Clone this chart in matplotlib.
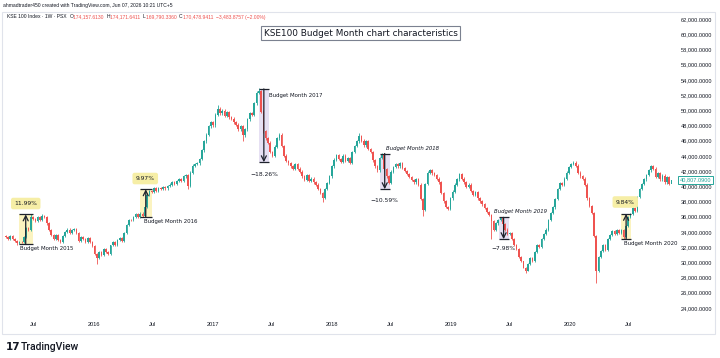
import datetime as dt
import matplotlib
matplotlib.use("Agg")
import matplotlib.pyplot as plt
import matplotlib.patches as mpatches
import numpy as np

# ---------------- data ----------------
start_date = dt.date(2015, 4, 6)          # first weekly candle
first_open = 33400
closes = [
    33300, 33000, 33500, 33100, 32800, 32500, 32700, 32600, 33300, 34500,
    34300, 35900, 35700, 35400, 35900, 35600, 36100, 35900, 35100, 34200,
    33600, 33100, 33600, 32900, 32700, 33500, 34000, 34300, 33900, 34200,
    34400, 33900, 32800, 33300, 33000, 32700, 33200, 32600, 32100, 31100,
    30600, 31300, 30900, 31700, 31300, 31100, 32200, 32600, 32300, 32900,
    33200, 32800, 33800, 34900, 35600, 35500, 35900, 36300, 36000, 36400,
    36100, 37300, 38900, 39400, 39200, 39700, 39400, 39800, 39600, 39900,
    39700, 40000, 40200, 40500, 40300, 40700, 40900, 40700, 41300, 41500,
    40000, 41800, 42700, 42900, 43000, 43600, 44700, 45900, 46800, 47900,
    48400, 48000, 49400, 50200, 49600, 49900, 49300, 49700, 49100, 48900,
    48400, 48100, 47500, 47900, 46700, 47500, 48800, 49600, 49400, 50900,
    52300, 52500, 49800, 47200, 46300, 45700, 44500, 44000, 45200, 46300,
    46800, 45300, 44000, 43300, 43000, 42600, 42300, 42900, 42300, 41900,
    41300, 40800, 41500, 40700, 41000, 40500, 40200, 39600, 39100, 38500,
    39600, 40400, 41300, 42600, 43500, 44100, 43600, 43200, 44000, 43300,
    43700, 43100, 44500, 45300, 45900, 46600, 46000, 45400, 45900, 44900,
    44500, 43400, 42600, 42100, 43700, 44200, 42200, 41300, 40400, 41900,
    42500, 42900, 42600, 43000, 42400, 42000, 41600, 41200, 40800, 40500,
    40900, 40200, 38300, 36900, 40300, 41800, 42100, 41700, 41500, 41000,
    40500, 39100, 38000, 37300, 37000, 38400, 39300, 40200, 40900, 41600,
    41000, 40500, 39900, 40200, 39400, 38900, 39200, 38400, 38000, 37600,
    37100, 36600, 36200, 35400, 34300, 35100, 35600, 35800, 35000, 34300,
    33700, 33800, 33000, 32300, 31700, 30700, 30100, 29300, 28900, 29800,
    30600, 30100, 31400, 32300, 32000, 33000, 33700, 34300, 35600, 36500,
    37200, 38300, 39600, 40400, 40200, 41000, 41800, 42500, 42900, 43100,
    42700, 41800, 41300, 41000, 40200, 38400, 37400, 36500, 33400, 28800,
    30700, 31500, 32300, 31600, 33000, 33600, 34100, 33700, 34200, 33900,
    34200, 33300, 34800, 35900, 36300, 37100, 36800, 38600, 39600, 40300,
    40900, 41500, 42100, 42600, 42300, 41200, 41700, 40900, 41400, 40500,
    41200, 40300, 40807,
]
# notable wick extremes (week index -> price)
low_spikes = {5: 32300, 40: 29800, 80: 39600, 104: 46000, 139: 37900,
              183: 36100, 213: 33100, 228: 28600, 259: 27200, 271: 33100}
high_spikes = {11: 36300, 16: 36400, 93: 50700, 111: 52900, 120: 47000,
               155: 47000, 165: 44400, 199: 41800, 250: 43300, 283: 42800}
last_price = 40807.09

tick_dates = [dt.date(2015, 7, 1), dt.date(2016, 1, 1), dt.date(2016, 7, 1),
              dt.date(2017, 1, 1), dt.date(2017, 7, 1), dt.date(2018, 1, 1),
              dt.date(2018, 7, 1), dt.date(2019, 1, 1), dt.date(2019, 7, 1),
              dt.date(2020, 1, 1), dt.date(2020, 7, 1)]
tick_labels = ["Jul", "2016", "Jul", "2017", "Jul", "2018", "Jul", "2019",
               "Jul", "2020", "Jul"]
price_ticks = list(range(24000, 62001, 2000))

budget_labels = ["Budget Month 2015", "Budget Month 2016", "Budget Month 2017",
                 "Budget Month 2018", "Budget Month 2019", "Budget Month 2020"]
budget_start = [dt.date(2015, 5, 16), dt.date(2016, 5, 22), dt.date(2017, 5, 22),
                dt.date(2018, 5, 28), dt.date(2019, 5, 28), dt.date(2020, 6, 7)]
budget_end = [dt.date(2015, 6, 28), dt.date(2016, 6, 27), dt.date(2017, 6, 22),
              dt.date(2018, 6, 28), dt.date(2019, 6, 28), dt.date(2020, 7, 8)]
budget_from = [32400, 36000, 52800, 44300, 35900, 33100]
budget_to = [36285, 39590, 43160, 39610, 33035, 36357]
budget_pct = ["11.99%", "9.97%", "\u221218.26%", "\u221210.59%", "\u22127.98%", "9.84%"]

# ---------------- style ----------------
UP = "#26a69a"
DOWN = "#ef5350"
TXT = "#131722"
AXFONT = ["Liberation Sans", "DejaVu Sans"]

W, H = 720, 358
fig = plt.figure(figsize=(7.2, 3.58), dpi=100)
fig.patch.set_facecolor("white")

def fx(px):
    return px / W

def fy(py):
    return 1 - py / H

ax = fig.add_axes([fx(5), fy(315), fx(672) - fx(5), fy(12) - fy(315)])
ax.set_facecolor("white")
for s in ax.spines.values():
    s.set_visible(False)

def wk(d):
    return (d - start_date).days / 7.0

n = len(closes)
x = np.arange(n)
c = np.array(closes, dtype=float)
o = np.array([first_open] + closes[:-1], dtype=float)
hi = np.maximum(o, c) * 1.004
lo = np.minimum(o, c) * 0.996
for k, v in high_spikes.items():
    hi[k] = max(hi[k], v)
for k, v in low_spikes.items():
    lo[k] = min(lo[k], v)
cols = [UP if cc >= oo else DOWN for oo, cc in zip(o, c)]

# budget boxes (behind candles)
for i in range(len(budget_labels)):
    x0, x1 = wk(budget_start[i]), wk(budget_end[i])
    up = budget_to[i] > budget_from[i]
    fc = "#fbf3c0" if up else "#e6e0f3"
    ylo, yhi = min(budget_from[i], budget_to[i]), max(budget_from[i], budget_to[i])
    ax.add_patch(mpatches.Rectangle((x0, ylo), x1 - x0, yhi - ylo, facecolor=fc,
                                    edgecolor="none", zorder=1))

ax.vlines(x, lo, hi, colors=cols, lw=0.6, zorder=2)
body = np.maximum(np.abs(c - o), 70)
ax.bar(x, body, bottom=np.minimum(o, c), width=0.72, color=cols, lw=0, zorder=3)

# arrows, caps and labels
for i in range(len(budget_labels)):
    x0, x1 = wk(budget_start[i]), wk(budget_end[i])
    xc = (x0 + x1) / 2
    ax.hlines([budget_from[i], budget_to[i]], x0, x1, colors="#1e222d", lw=0.9, zorder=4)
    ax.annotate("", xy=(xc, budget_to[i]), xytext=(xc, budget_from[i]),
                arrowprops=dict(arrowstyle="->", color="#1e222d", lw=0.9,
                                shrinkA=0, shrinkB=0, mutation_scale=9), zorder=4)

lab_pos = [(6.1, 31860), (60.5, 35420), (115.3, 52000), (166.7, 44900),
           (214.0, 36650), (271.0, 32520)]
lab_style = ["normal", "normal", "normal", "italic", "italic", "normal"]
for i in range(len(budget_labels)):
    ax.text(lab_pos[i][0], lab_pos[i][1], budget_labels[i], fontsize=3.9,
            color=TXT, ha="left", va="center", style=lab_style[i], zorder=5)

pct_pos = [(8.8, 37720), (61.2, 41010), (113.2, 41600), (166.2, 38180),
           (218.4, 31860), (271.7, 37920)]
for i in range(len(budget_labels)):
    up = budget_to[i] > budget_from[i]
    kw = {}
    if up:
        kw["bbox"] = dict(boxstyle="round,pad=0.55,rounding_size=0.35",
                          fc="#f6eea6", ec="none")
    ax.text(pct_pos[i][0], pct_pos[i][1], budget_pct[i], fontsize=4.3, color=TXT,
            ha="center", va="center", zorder=5, **kw)

# axes
ax.set_xlim(-0.3, 292.2)
ax.set_ylim(23053, 62921)
ax.set_xticks([wk(d) for d in tick_dates])
ax.set_xticklabels(tick_labels, family=AXFONT)
ax.yaxis.tick_right()
ax.set_yticks(price_ticks)
ax.set_yticklabels([f"{v:,.4f}" for v in price_ticks], family=AXFONT)
ax.tick_params(axis="both", length=0, labelsize=4.1, colors=TXT)
ax.tick_params(axis="y", pad=6)
ax.tick_params(axis="x", pad=5)

# last price tag
ax.annotate(f"{last_price:,.4f}", xy=(1.0, last_price), xycoords=("axes fraction", "data"),
            xytext=(5.5, 0), textcoords="offset points", fontsize=4.1, color=UP,
            ha="left", va="center", family=AXFONT,
            bbox=dict(boxstyle="square,pad=0.25", fc="white", ec=UP, lw=0.7),
            annotation_clip=False, zorder=6)

# frame
fig.add_artist(mpatches.Rectangle((fx(2), fy(334)), fx(715) - fx(2), fy(12) - fy(334),
                                  transform=fig.transFigure, fill=False,
                                  edgecolor="#e0e3eb", lw=0.8))

# header
fig.text(fx(3), fy(6), "ahmadtrader450 created with TradingView.com, Jun 07, 2026 10:21 UTC+5",
         fontsize=3.6, color=TXT, ha="left", va="center", family=AXFONT)

pieces = [("KSE 100 Index \u00b7 1W \u00b7 PSX  ", TXT), ("O", TXT), ("174,157.6130  ", DOWN),
          ("H", TXT), ("174,171.6411  ", DOWN), ("L", TXT), ("169,790.3360  ", DOWN),
          ("C", TXT), ("170,478.9411  ", DOWN), ("\u22123,483.8757 (\u22122.00%)", DOWN)]
renderer = fig.canvas.get_renderer()
cur = 7.0
for t, col in pieces:
    tt = fig.text(fx(cur), fy(17), t, fontsize=3.6, color=col, ha="left", va="center",
                  family=AXFONT)
    bb = tt.get_window_extent(renderer=renderer)
    cur += bb.width

# title box
fig.text(fx(360.5), fy(33), "KSE100 Budget Month chart characteristics", fontsize=6.4,
         color=TXT, ha="center", va="center",
         bbox=dict(boxstyle="square,pad=0.3", fc="white", ec="#7b8190", lw=0.8))

# TradingView logo
fig.text(fx(6), fy(347), "17", fontsize=7.5, fontweight="bold", color=TXT,
         ha="left", va="center")
fig.text(fx(21), fy(347), "TradingView", fontsize=7.5, color=TXT, ha="left",
         va="center", family="Roboto", fontweight="medium")

fig.savefig("out.png", dpi=100, facecolor="white")
